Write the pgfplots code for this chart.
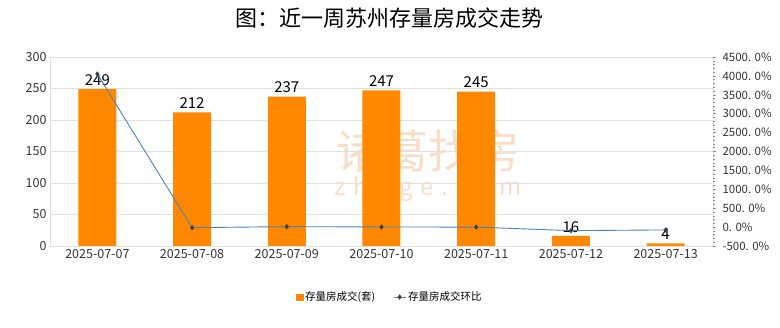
\documentclass[border=0pt]{standalone}
\usepackage{fontspec}
\setmainfont{Noto Sans CJK SC}
\usepackage{pgfplots}
\pgfplotsset{compat=1.18}
\definecolor{barorange}{RGB}{255,136,0}
\definecolor{lineblue}{RGB}{75,130,185}
\definecolor{gridgray}{RGB}{224,224,224}
\definecolor{wm}{RGB}{248,222,200}
\pgfplotsset{shortline legend/.style={legend image code/.code={\draw[##1, mark repeat=2, mark phase=2] plot coordinates {(0pt,0pt) (6pt,0pt) (12pt,0pt)};}}}
\begin{document}
\begin{tikzpicture}
\useasboundingbox (0,0) rectangle (780pt,328pt);
\node[font=\fontsize{22}{22}\selectfont, text=black] at (389pt,310pt) {图：近一周苏州存量房成交走势};
\node[font=\fontsize{46}{46}\selectfont, text=wm] at (428pt,177pt) {诸葛找房};
\node[font=\fontsize{24}{24}\selectfont, text=wm] at (428pt,139pt) {z\,\,h\,\,u\,\,g\,\,e\,\,.\,\,c\,\,o\,\,m};
\begin{axis}[
  at={(50pt,82pt)}, anchor=south west, scale only axis,
  width=663pt, height=189pt,
  xmin=-0.5, xmax=6.5, ymin=0, ymax=300,
  xtick={0,...,6},
  xticklabels={2025-07-07,2025-07-08,2025-07-09,2025-07-10,2025-07-11,2025-07-12,2025-07-13},
  ytick={0,50,...,300},
  ymajorgrids, grid style={gridgray, line width=0.6pt},
  axis line style={gridgray},
  major tick length=0pt,
  tick label style={font=\fontsize{12.5}{12.5}\selectfont, text=black!80},
  /pgf/number format/assume math mode=true,
  ybar, bar width=38pt,
  nodes near coords,
  nodes near coords style={font=\fontsize{15}{15}\selectfont, text=black, /pgf/number format/assume math mode=true},
]
\addplot[fill=barorange, draw=none] coordinates {(0,249) (1,212) (2,237) (3,247) (4,245) (5,16) (6,4)};
\end{axis}
\begin{axis}[
  at={(50pt,82pt)}, anchor=south west, scale only axis,
  width=663pt, height=189pt,
  xmin=-0.5, xmax=6.5, ymin=-500, ymax=4500,
  axis x line=none, axis y line*=right,
  y axis line style={draw=none},
  ytick={-500,0,500,1000,1500,2000,2500,3000,3500,4000,4500},
  yticklabels={-500. 0\%,0. 0\%,500. 0\%,1000. 0\%,1500. 0\%,2000. 0\%,2500. 0\%,3000. 0\%,3500. 0\%,4000. 0\%,4500. 0\%},
  minor y tick num=4,
  tick align=outside,
  major tick length=3pt, minor tick length=2pt,
  tick style={black!45, line width=0.5pt},
  yticklabel style={font=\fontsize{11.5}{11.5}\selectfont, text=black!80, xshift=3pt},
  legend style={at={(axis description cs:0.513,-0.27)}, anchor=center, draw=none, fill=none,
    legend columns=2, font=\fontsize{10.5}{10.5}\selectfont,
    /tikz/every even column/.append style={column sep=16pt}},
]
\addlegendimage{only marks, mark=square*, mark size=3.2pt, color=barorange}
\addlegendentry{存量房成交(套)}
\addplot[lineblue, line width=0.9pt, mark=diamond*, mark size=2pt,
  mark options={fill=black!75, draw=black!75}, shortline legend]
  coordinates {(0,4050) (1,-14.9) (2,11.8) (3,4.2) (4,-0.8) (5,-93.5) (6,-75)};
\addlegendentry{存量房成交环比}
\end{axis}
\end{tikzpicture}
\end{document}
